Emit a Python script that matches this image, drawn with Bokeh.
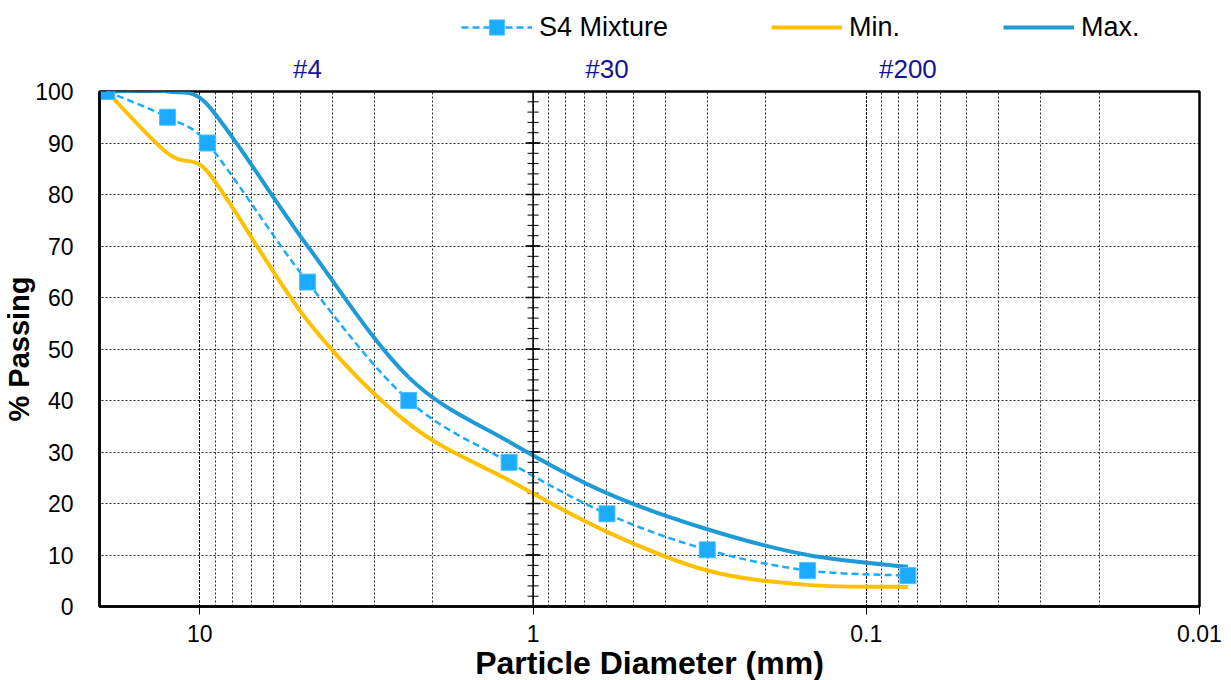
import numpy as np
from bokeh.plotting import figure
from bokeh.layouts import column
from bokeh.models import (LogAxis, FixedTicker, LogTicker, Span, Legend, LegendItem,
                          Range1d, CustomJSTickFormatter, ColumnDataSource)
from bokeh.embed import file_html
from bokeh.resources import INLINE

# ---- data ----
sieve_mm = [19.0, 12.5, 9.5, 4.75, 2.36, 1.18, 0.6, 0.3, 0.15, 0.075]
mixture = [100, 95, 90, 63, 40, 28, 18, 11, 7, 6]
min_spec = [100, 88, 84.5, 55.5, 35.5, 24.5, 14.5, 7, 4.2, 3.8]
max_spec = [100, 100, 97.5, 70, 44.5, 32, 22, 15, 10, 7.7]
series_names = ["S4 Mixture", "Min.", "Max."]
sieve_labels = ["#4", "#30", "#200"]
sieve_label_mm = [4.75, 0.6, 0.075]
y_ticks = list(range(0, 101, 10))
y_minor_ticks = list(range(0, 101, 2))

FONT = "Liberation Sans"
MIX_COLOR, MIN_COLOR, MAX_COLOR = "#1AABFF", "#FFC000", "#1E9AD6"

FW, FH = 1100, 515
PX_PER_DECADE = FW / 3.30103   # only used to shape the smoothing
PX_PER_UNIT = FH / 100.0


def smooth_segments(xs, ys):
    """Catmull-Rom style bezier smoothing (Excel-like), arms limited to half a segment."""
    xs = np.asarray(xs, float)
    y = np.asarray(ys, float)
    sx, sy = np.log10(xs) * PX_PER_DECADE, y * PX_PER_UNIT
    n = len(xs)
    d = np.hypot(np.diff(sx), np.diff(sy))
    c0x, c0y, c1x, c1y = [], [], [], []
    for i in range(n - 1):
        a, b, c = max(i - 1, 0), i + 1, min(i + 2, n - 1)
        ax, ay = (sx[b] - sx[a]) / 6, (sy[b] - sy[a]) / 6
        bx, by = (sx[c] - sx[i]) / 6, (sy[c] - sy[i]) / 6
        la, lb = np.hypot(ax, ay), np.hypot(bx, by)
        lim = 0.5 * d[i]
        if la > lim:
            ax, ay = ax * lim / la, ay * lim / la
        if lb > lim:
            bx, by = bx * lim / lb, by * lim / lb
        c0x.append(sx[i] + ax); c0y.append(sy[i] + ay)
        c1x.append(sx[b] - bx); c1y.append(sy[b] - by)
    c0x, c0y, c1x, c1y = map(np.array, (c0x, c0y, c1x, c1y))
    return ColumnDataSource(dict(x0=xs[:-1], y0=y[:-1], x1=xs[1:], y1=y[1:],
                                 cx0=10 ** (c0x / PX_PER_DECADE), cy0=c0y / PX_PER_UNIT,
                                 cx1=10 ** (c1x / PX_PER_DECADE), cy1=c1y / PX_PER_UNIT))


# ---------------- main chart ----------------
p = figure(frame_width=FW, frame_height=FH, x_axis_type="log",
           x_range=Range1d(20, 0.01), y_range=Range1d(0, 100),
           output_backend="svg", toolbar_location=None,
           min_border_left=92, min_border_right=31, min_border_top=33, min_border_bottom=56)

p.outline_line_color = "black"
p.outline_line_width = 2.5

# x axis (bottom)
xa = p.xaxis[0]
xa.ticker = LogTicker(num_minor_ticks=10, mantissas=[1])
xa.formatter = CustomJSTickFormatter(code="return Number(tick.toPrecision(6)).toString();")
xa.axis_label = "Particle Diameter (mm)"
xa.axis_label_text_font = FONT
xa.axis_label_text_font_style = "bold"
xa.axis_label_text_font_size = "32px"
xa.axis_label_text_color = "black"
xa.axis_label_standoff = 0
xa.major_label_text_font = FONT
xa.major_label_text_font_size = "23px"
xa.major_label_text_color = "black"
xa.major_label_standoff = 10
xa.axis_line_color = "black"
xa.axis_line_width = 2.5
xa.major_tick_out = 8
xa.major_tick_in = 0
xa.major_tick_line_color = "black"
xa.minor_tick_line_color = None

# y axis (left)
ya = p.yaxis[0]
ya.ticker = FixedTicker(ticks=y_ticks)
ya.axis_label = "% Passing"
ya.axis_label_text_font = FONT
ya.axis_label_text_font_style = "bold"
ya.axis_label_text_font_size = "29px"
ya.axis_label_text_color = "black"
ya.axis_label_standoff = -3
ya.major_label_text_font = FONT
ya.major_label_text_font_size = "23px"
ya.major_label_text_color = "black"
ya.major_label_standoff = 20
ya.axis_line_color = "black"
ya.axis_line_width = 2.5
ya.major_tick_line_color = None
ya.minor_tick_line_color = None

# grids
p.ygrid.ticker = FixedTicker(ticks=y_ticks)
for g in (p.xgrid, p.ygrid):
    g.grid_line_color = "black"
    g.grid_line_dash = "2 2"
    g.grid_line_width = 1
    g.grid_line_alpha = 0.85
p.xgrid.minor_grid_line_color = "black"
p.xgrid.minor_grid_line_dash = "2 2"
p.xgrid.minor_grid_line_alpha = 0.85

# secondary vertical axis line crossing at 1 mm, with tick marks
p.add_layout(Span(location=1, dimension="height", line_color="black", line_width=1.5))
p.scatter(x=[1] * len(y_minor_ticks), y=y_minor_ticks, marker="dash", size=11,
          line_color="black", line_width=1)
p.scatter(x=[1] * len(y_ticks), y=y_ticks, marker="dash", size=15,
          line_color="black", line_width=1.5)

# curves
bz = dict(x0="x0", y0="y0", x1="x1", y1="y1", cx0="cx0", cy0="cy0", cx1="cx1", cy1="cy1")
p.bezier(source=smooth_segments(sieve_mm, min_spec), line_color=MIN_COLOR, line_width=4, **bz)
p.bezier(source=smooth_segments(sieve_mm, max_spec), line_color=MAX_COLOR, line_width=4, **bz)
p.bezier(source=smooth_segments(sieve_mm, mixture), line_color=MIX_COLOR, line_width=2.5,
         line_dash="7 4", **bz)
p.scatter(x=sieve_mm, y=mixture, marker="square", size=16,
          fill_color=MIX_COLOR, line_color="#4FC0FF", line_width=1)

# top axis with sieve labels
top = LogAxis(ticker=FixedTicker(ticks=sieve_label_mm),
              formatter=CustomJSTickFormatter(args=dict(vals=sieve_label_mm, labels=sieve_labels),
                                              code="""
const i = vals.findIndex(v => Math.abs(v - tick) < 1e-9 * Math.max(1, v));
return i >= 0 ? labels[i] : "";
"""),
              axis_line_color=None, major_tick_line_color=None, minor_tick_line_color=None,
              major_label_text_color="#12129A", major_label_text_font=FONT,
              major_label_text_font_size="26px", major_label_standoff=2)
p.add_layout(top, "above")

# ---------------- legend strip above the chart ----------------
LH = 50
lg = figure(width=92 + FW + 31, height=LH, x_range=Range1d(0, 1), y_range=Range1d(0, 1),
            output_backend="svg", toolbar_location=None,
            min_border_left=0, min_border_right=0, min_border_top=0, min_border_bottom=0)
lg.axis.visible = False
lg.grid.visible = False
lg.outline_line_color = None
nan = [float("nan")]
l_mix = lg.line(nan, nan, line_color=MIX_COLOR, line_width=2.5, line_dash="7 4")
l_pts = lg.scatter(nan, nan, marker="square", fill_color=MIX_COLOR, line_color="#4FC0FF",
                   line_width=1)
l_min = lg.line(nan, nan, line_color=MIN_COLOR, line_width=4)
l_max = lg.line(nan, nan, line_color=MAX_COLOR, line_width=4)

legend = Legend(items=[LegendItem(label=series_names[0], renderers=[l_mix, l_pts]),
                       LegendItem(label=series_names[1], renderers=[l_min]),
                       LegendItem(label=series_names[2], renderers=[l_max])],
                orientation="horizontal", location=(362, LH - 46),
                glyph_width=71, glyph_height=38, label_height=38,
                label_standoff=7, spacing=103,
                label_text_font=FONT, label_text_font_size="27px", label_text_color="black",
                border_line_color=None, background_fill_alpha=0, padding=0, margin=0)
lg.add_layout(legend, "center")

layout = column(lg, p, spacing=0)
open("out.html", "w").write(file_html(layout, INLINE))
